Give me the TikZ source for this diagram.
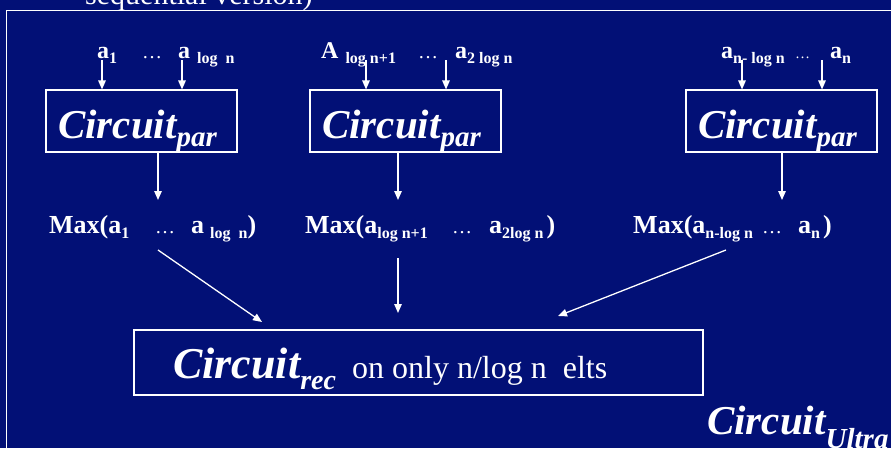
\documentclass[tikz,border=0pt]{standalone}
\usepackage{fontspec}
\setmainfont{Liberation Serif}
\usetikzlibrary{arrows.meta}
\definecolor{slide}{RGB}{2,16,118}
\newcommand{\fs}[1]{\fontsize{#1}{#1}\selectfont}
% lowered subscript: #1 = drop, #2 = size, #3 = text
\newcommand{\dn}[3]{\raisebox{-#1pt}{\fs{#2}#3}}
\newcommand{\circsub}[4]{{\fs{#1}Circuit}\dn{#3}{#2}{#4}}
\begin{document}
\begin{tikzpicture}[x=1pt,y=-1pt,
  txt/.style={text=white, inner sep=0pt, anchor=base west},
  inlbl/.style={txt, font=\bfseries\fs{24}},
  maxlbl/.style={txt, font=\bfseries\fs{26}},
  dotlbl/.style={txt, font=\fs{20}},
  circ/.style={txt, font=\bfseries\itshape},
  box/.style={draw=white, line width=1.1pt, inner sep=0pt},
  parbox/.style={box, minimum width=191pt, minimum height=62pt},
  arr/.style={white, line width=1.3pt, -{Triangle[length=9pt,width=7.5pt]}},
  frame/.style={draw=white, line width=1pt}]
\fill[slide] (0,0) rectangle (891,448);
\useasboundingbox (0,0) rectangle (891,448);
\clip (0,0) rectangle (891,448);

% heading line, mostly above the visible area
\node[txt, font=\fs{30}] (hdr) at (85,4) {sequential version)};
\draw[frame] (6,10) rectangle (910,470);

% three parallel circuits
\node[parbox] (p1) at (141.5,121) {};
\node[parbox] (p2) at (405.5,121) {};
\node[parbox] (p3) at (781.5,121) {};
\node[circ] (c1) at (58,138)  {\circsub{41}{29}{8}{par}};
\node[circ] (c2) at (322,138) {\circsub{41}{29}{8}{par}};
\node[circ] (c3) at (698,138) {\circsub{41}{29}{8}{par}};

% inputs of each block
\node[inlbl] (t1a) at (97,58)  {a\dn{5}{16}{1}};
\node[dotlbl] (t1d) at (142,58) {\dots};
\node[inlbl] (t1b) at (178,58) {a\hspace{7pt}\dn{5}{16}{log\ \ n}};
\node[inlbl] (t2a) at (321,58) {A\hspace{7pt}\dn{5}{16}{log n+1}};
\node[dotlbl] (t2d) at (418,58) {\dots};
\node[inlbl] (t2b) at (455,58) {a\dn{5}{16}{2 log n}};
\node[inlbl] (t3a) at (721,58) {a\dn{5}{16}{n- log n}};
\node[dotlbl, font=\fs{15}] (t3d) at (795,58) {\dots};
\node[inlbl] (t3b) at (830,58) {a\dn{5}{16}{n}};

\foreach \n/\xa/\xb in {1/102/182, 2/366/446, 3/742/822} {
  \coordinate (s\n a) at (\xa,60);
  \coordinate (s\n b) at (\xb,60);
  \draw[arr] (s\n a) -- (s\n a |- p\n.north);
  \draw[arr] (s\n b) -- (s\n b |- p\n.north);
}

% outputs of each block
\coordinate (d1) at (158,200);
\coordinate (d2) at (398,200);
\coordinate (d3) at (782,200);
\foreach \n in {1,2,3} \draw[arr] (d\n |- p\n.south) -- (d\n);

\node[maxlbl] (m1a) at (49,233)  {Max(a\dn{5}{16}{1}};
\node[dotlbl] (m1d) at (155,233) {\dots};
\node[maxlbl] (m1b) at (191,233) {a\hspace{6pt}\dn{5}{16}{log\ \ n})};
\node[maxlbl] (m2a) at (305,233) {Max(a\dn{5}{16}{log n+1}};
\node[dotlbl] (m2d) at (452,233) {\dots};
\node[maxlbl] (m2b) at (489,233) {a\dn{5}{16}{2log n}\hspace{3pt})};
\node[maxlbl] (m3a) at (633,233) {Max(a\dn{5}{16}{n-log n}};
\node[dotlbl] (m3d) at (762,233) {\dots};
\node[maxlbl] (m3b) at (798,233) {a\dn{5}{16}{n}\hspace{3pt})};

% recursive circuit
\node[box, minimum width=569pt, minimum height=65pt] (rec) at (418.5,362.5) {};
\node[circ] (r1) at (173,378) {\circsub{44}{28}{11}{rec}};
\node[txt, font=\fs{32}] (r2) at (352,378) {on only n/log n\ \ elts};

\coordinate (f1) at (158,250);
\coordinate (f2) at (398,258);
\coordinate (f3) at (726,250);
\coordinate (e1) at (262,322);
\coordinate (e2) at (398,313);
\coordinate (e3) at (558,316);
\foreach \n in {1,2,3} \draw[arr] (f\n) -- (e\n);

% name of the whole construction
\node[circ] (ultra) at (707,434) {\circsub{41}{29}{14}{Ultra}};
\end{tikzpicture}
\end{document}
